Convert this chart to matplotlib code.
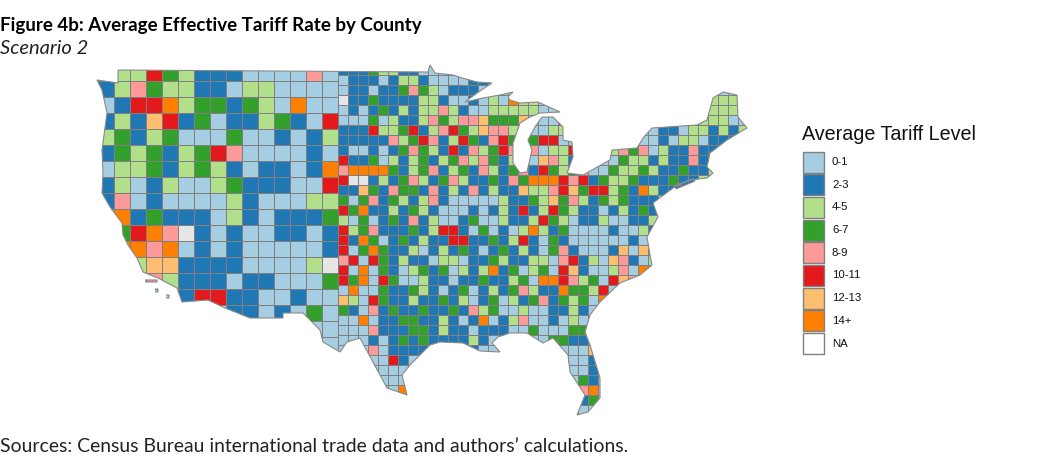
import numpy as np
import matplotlib
matplotlib.use("Agg")
import matplotlib.pyplot as plt
from matplotlib.colors import ListedColormap
from matplotlib.patches import PathPatch, Rectangle
from matplotlib.path import Path

levels = ["0-1", "2-3", "4-5", "6-7", "8-9", "10-11", "12-13", "14+", "NA"]
level_colors = ["#a6cee3", "#1f78b4", "#b2df8a", "#33a02c", "#fb9a99", "#e31a1c",
                "#fdbf6f", "#ff7f00", "#ffffff"]
map_colors = level_colors[:-1] + ["#e6e6e6"]

# class of each block: west has big counties, east small ones
west_x0, west_y0, west_step = 98, 65, 16
west_rows = [
    "122532111000040",
    "124322110220000",
    "015572331320700",
    "121651301123105",
    "231230003001012",
    "132312354000010",
    "022312321011017",
    "120120023111005",
    "140100002100022",
    "271311102101113",
    "035748101001101",
    "077470101000001",
    "002661111000028",
    "000421110110003",
    "000021551100100",
    "000000001101030",
    "000000000000000",
    "000000000000000",
]

east_x0, east_y0, east_step = 338, 65, 10
east_rows = [
    "1113221100",
    "011101221000011100",
    "011011343201110",
    "81131111221001020722" + "00000000000000000222",
    "0101312122421002222200" + "000000000000000222",
    "000302112432446333600050" + "0000000000002220",
    "1115223512453264425002263" + "000000" + "0110221212",
    "111114235412531453235500452" + "000" + "00102201111",
    "10010134321514235414" + "0225000" + "243402114113",
    "51130212312342431200" + "642120" + "0032212114131",
    "47777312341231421341" + "532340" + "0322321131121",
    "58812134213421131437" + "775451" + "3223111311211",
    "11631433141214121162" + "245635523172111",
    "30341321241000002113" + "26342132311100",
    "53711213210001012151" + "25321101213114",
    "20301314120013002112" + "53201120011211",
    "52341113125510301027" + "2130000100214",
    "51730131211551131251" + "03100000010010",
    "50373112012131013121" + "034100016060201",
    "45053121102201132112" + "204512064102110",
    "50703102313021271302" + "3056100240761",
    "53705300211011311230" + "775423056474150",
    "07003113210130121342" + "11733250276051",
    "62053112113120130213" + "413230752121",
    "31041311311314230020" + "0112107210",
    "00701133112101701240" + "010202540",
    "00041113312110111003" + "00033610",
    "00010131311112100000" + "033111",
    "00040111111111000000" + "0000062210",
    "00000510000000000000" + "00000110",
    "00000000000000000000" + "00000112",
    "00000000000000000000" + "00003100",
    "00000070000000000000" + "00004700",
    "00000010000000000000" + "00001300",
    "00000000000000000000" + "00000000",
]

# outline of the lower 48, in picture units
outline_x = [118, 118, 428, 430, 435, 453, 462, 477, 492, 477, 465, 483, 500, 513, 508, 510,
             520, 538, 560, 540, 530, 520, 513, 513, 520, 527, 532, 528, 535, 542, 553, 563,
             563, 572, 573, 567, 583, 610, 612, 637, 643, 652, 697, 707, 713, 723, 737, 738,
             747, 727, 710, 707, 713, 707, 690, 673, 653, 658, 647, 650, 652, 640, 620, 600,
             590, 585, 590, 600, 600, 588, 577, 585, 570, 568, 553, 543, 527, 510, 498, 492,
             500, 480, 463, 440, 430, 410, 402, 407, 387, 373, 360, 347, 340, 323, 320, 303,
             283, 283, 250, 225, 208, 182, 177, 158, 143, 137, 128, 123, 122, 110, 102, 103,
             102, 107, 102, 97, 118]
outline_y = [83, 70, 72, 65, 73, 75, 78, 82, 83, 93, 102, 98, 95, 92, 97, 100,
             103, 102, 112, 113, 117, 123, 143, 163, 173, 172, 150, 140, 127, 117, 117, 127,
             140, 142, 157, 173, 175, 160, 150, 148, 138, 128, 125, 120, 98, 92, 95, 117,
             128, 140, 153, 167, 173, 178, 180, 188, 203, 217, 237, 255, 265, 275, 283, 302,
             315, 332, 345, 378, 398, 412, 415, 395, 372, 355, 338, 343, 333, 333, 337, 343,
             352, 351, 343, 342, 345, 365, 375, 395, 388, 362, 338, 342, 352, 342, 330, 313,
             313, 318, 318, 308, 300, 302, 288, 278, 272, 258, 245, 235, 223, 207, 193, 173,
             150, 113, 90, 80, 83]
islands_x = [[673, 693, 695, 676], [145, 157, 157, 145], [155, 158, 158, 155], [166, 169, 169, 166]]
islands_y = [[186, 179, 181, 189], [280, 280, 282, 282], [289, 289, 292, 292], [295, 295, 298, 298]]


def to_grid(rows):
    width = max(len(r) for r in rows)
    return np.array([[int(c) for c in r.ljust(width, "0")] for r in rows])


fig = plt.figure(figsize=(10.44, 4.72), dpi=100)
ax = fig.add_axes([0, 0, 1, 1])
ax.set_xlim(0, 1044)
ax.set_ylim(472, 0)
ax.axis("off")

verts = list(zip(outline_x, outline_y))
codes = [Path.MOVETO] + [Path.LINETO] * (len(outline_x) - 1)
for ix, iy in zip(islands_x, islands_y):
    verts += list(zip(ix, iy))
    codes += [Path.MOVETO] + [Path.LINETO] * (len(ix) - 1)
usa = Path(verts, codes)
cmap = ListedColormap(map_colors)

for rows, x0, y0, step in [(west_rows, west_x0, west_y0, west_step),
                           (east_rows, east_x0, east_y0, east_step)]:
    grid = to_grid(rows)
    xe = x0 + step * np.arange(grid.shape[1] + 1)
    ye = y0 + step * np.arange(grid.shape[0] + 1)
    mesh = ax.pcolormesh(xe, ye, grid, cmap=cmap, vmin=-0.5, vmax=8.5,
                         edgecolors="#7f7f7f", linewidth=0.6)
    mesh.set_clip_path(PathPatch(usa, transform=ax.transData))

ax.add_patch(PathPatch(usa, facecolor="none", edgecolor="#8a8a8a", linewidth=0.8))

# legend
ax.text(802, 135, "Average Tariff Level", family="Liberation Sans", fontsize=14.2,
        va="center", ha="left", color="#111111")
for i, (lab, col) in enumerate(zip(levels, level_colors)):
    yc = 162 + i * 22.7
    ax.add_patch(Rectangle((803, yc - 10.5), 20.5, 21, facecolor=col, edgecolor="#808080",
                           linewidth=1.0))
    ax.text(832, yc, lab, family="Liberation Sans", fontsize=8.2, va="center", ha="left",
            color="#111111")

ax.text(0, 25, "Figure 4b: Average Effective Tariff Rate by County", family="Lato",
        fontsize=13.5, fontweight="bold", va="center", ha="left", color="black")
ax.text(0, 48, "Scenario 2", family="Lato", fontsize=14.5, style="italic", va="center",
        ha="left", color="#222222")
ax.text(0, 446, "Sources: Census Bureau international trade data and authors\u2019 calculations.",
        family="Lato", fontsize=13.95, va="center", ha="left", color="#222222")

fig.savefig("out.png", dpi=100)
